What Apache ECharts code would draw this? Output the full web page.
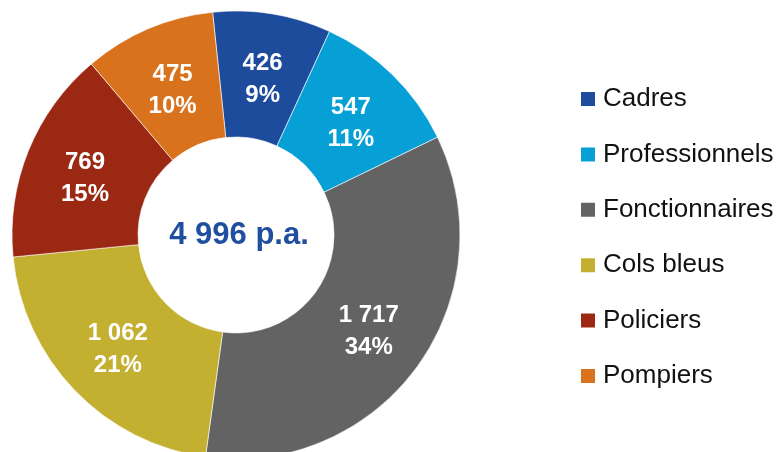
<!DOCTYPE html>
<html>
<head>
<meta charset="utf-8">
<script src="https://cdn.jsdelivr.net/npm/echarts@6/dist/echarts.min.js"></script>
<style>
  html, body { margin: 0; padding: 0; background: #ffffff; }
  #chart { width: 779px; height: 452px; }
</style>
</head>
<body>
<div id="chart"></div>
<script>
// Hiring needs by job group (persons per year)
const categories = ['Cadres', 'Professionnels', 'Fonctionnaires', 'Cols bleus', 'Policiers', 'Pompiers'];
const values = [426, 547, 1717, 1062, 769, 475];
const colors = ['#1d4c9c', '#069fd6', '#636363', '#c3af30', '#9b2813', '#d9721c'];
const centerLabel = '4 996 p.a.';

// small nudges of the in-slice labels (px)
const labelNudge = [[0, 6], [0, 6], [0, 0], [0, 1], [1, 5], [1, 6]];

// French-style thousands separator (space)
function fmt(n) {
  return String(n).replace(/\B(?=(\d{3})+(?!\d))/g, ' ');
}

const chart = echarts.init(document.getElementById('chart'));
const font = '"Liberation Sans", Arial, Helvetica, sans-serif';

chart.setOption({
  animation: false,
  color: colors,
  legend: {
    orient: 'vertical',
    left: 574,
    top: 81,
    icon: 'rect',
    itemWidth: 16,
    itemHeight: 16,
    itemGap: 29.4,
    selectedMode: false,
    textStyle: {
      fontFamily: font,
      fontSize: 26,
      lineHeight: 26,
      color: '#111111',
      padding: [0, 0, 0, 2]
    },
    data: categories
  },
  graphic: [{
    type: 'text',
    z: 100,
    style: {
      text: centerLabel,
      x: 239,
      y: 235,
      fill: '#1f4f9e',
      font: 'bold 31px ' + font,
      textAlign: 'center',
      textVerticalAlign: 'middle'
    }
  }],
  series: [{
    type: 'pie',
    center: [236, 235],
    radius: [98, 224],
    startAngle: 96,
    clockwise: true,
    avoidLabelOverlap: false,
    percentPrecision: 0,
    itemStyle: { borderColor: '#ffffff', borderWidth: 0.6 },
    label: {
      show: true,
      position: 'inside',
      color: '#ffffff',
      fontFamily: font,
      fontWeight: 'bold',
      fontSize: 24,
      lineHeight: 32,
      align: 'center',
      formatter: function (p) { return fmt(p.value) + '\n' + Math.round(p.percent) + '%'; }
    },
    labelLine: { show: false },
    emphasis: { disabled: true },
    data: categories.map(function (c, i) {
      return { name: c, value: values[i], label: { offset: labelNudge[i] } };
    })
  }]
});
</script>
</body>
</html>
